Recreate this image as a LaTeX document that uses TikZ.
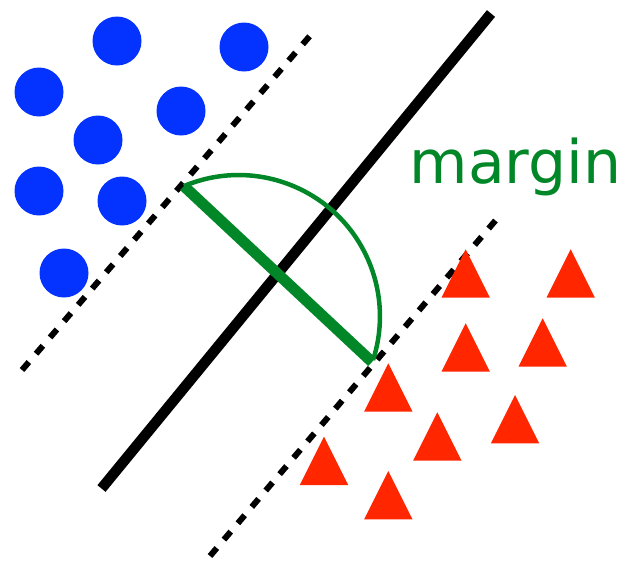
\documentclass[tikz,border=0pt]{standalone}
\usepackage{fontspec}
\newfontfamily\labelfont{DejaVu Sans}
\definecolor{dotblue}{RGB}{4,51,255}
\definecolor{trired}{RGB}{255,38,0}
\definecolor{margreen}{RGB}{2,135,40}
\tikzset{
  dot/.style={fill=dotblue},
  tri/.style={fill=trired},
  hyper/.style={line width=10.5pt, line cap=butt},
  support/.style={line width=6pt, dash pattern=on 10.5pt off 11pt},
  marline/.style={draw=margreen, line width=11pt},
  mararc/.style={draw=margreen, line width=4.5pt},
}
\newcommand{\mytri}[2]{\fill[tri] (#1-24.2,#2+48.4) -- (#1,#2) -- (#1+24.2,#2+48.4) -- cycle;}
\begin{document}
\begin{tikzpicture}[x=1pt,y=-1pt]
\useasboundingbox (0,0) rectangle (632,560);
% separating line
\coordinate (h1) at (101.5,488.5);
\coordinate (h2) at (491,13.5);
\draw[hyper] (h1) -- (h2);
% dashed support lines
\coordinate (l1) at (22,370);
\coordinate (l2) at (315,30);
\draw[support] (l1) -- (l2);
\coordinate (r1) at (210,556);
\coordinate (r2) at (501,214);
\draw[support] (r1) -- (r2);
% margin
\coordinate (A) at (183.9,186.1);
\coordinate (B) at (372,362);
\draw[mararc] (A) arc[start angle=-112.8, end angle=18, radius=141.3];
\draw[marline] (A) -- (B);
\node[anchor=base west, inner sep=0pt, text=margreen, font=\labelfont\fontsize{60}{72}\selectfont] (lab) at (409.5,183.3) {margin};
% circles
\foreach \p in {(117,41),(244,47),(39,92),(181,111),(98,140),(39,191),(122,201),(64,273)}
  \fill[dot] \p circle[radius=24.5];
% triangles
\mytri{465.7}{249.3}
\mytri{570.7}{249.3}
\mytri{465.7}{323.3}
\mytri{542.7}{318.3}
\mytri{388.3}{363.3}
\mytri{437.3}{412.3}
\mytri{515}{395}
\mytri{324}{436.7}
\mytri{388.3}{471}
\end{tikzpicture}
\end{document}
